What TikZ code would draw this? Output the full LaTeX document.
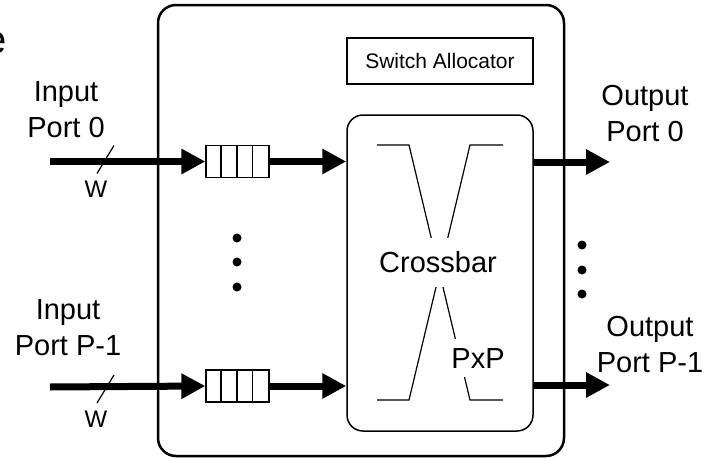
\documentclass[tikz,border=0pt]{standalone}
\usepackage{fontspec}
\setmainfont{Liberation Sans}
\usetikzlibrary{positioning,arrows.meta,calc}

\begin{document}
\begin{tikzpicture}[
    x=1pt, y=-1pt,
    every node/.style={font=\fontsize{29}{36}\selectfont, align=center},
    router/.style={draw, line width=2.5pt, rounded corners=18pt,
                   minimum width=406pt, minimum height=451pt},
    xbarbox/.style={draw, line width=1.5pt, rounded corners=16pt,
                    minimum width=186pt, minimum height=316pt},
    alloc/.style={draw, line width=1.3pt, minimum width=186pt, minimum height=46pt,
                  font=\fontsize{21}{24}\selectfont},
    fifo/.style={draw, line width=1.3pt, minimum width=63pt, minimum height=32pt,
                 inner sep=0pt},
    bus/.style={line width=7pt},
    thinline/.style={line width=1.2pt},
    gapnode/.style={fill=white, inner xsep=2pt, text height=20pt, text depth=0pt},
    wlabel/.style={font=\fontsize{24}{28}\selectfont},
    >={Triangle[length=24pt,width=24pt]}
]
  \useasboundingbox (0,0) rectangle (710,458);

  % cut-off letter at the left edge
  \node[font=\fontsize{40}{44}\selectfont, anchor=base east, inner sep=0pt] (cut) at (6.6,53) {e};

  % router and its parts
  \node[router] (router) at (361,230.5) {};
  \node[alloc] (alloc) at (440,61) {Switch Allocator};
  \node[xbarbox] (xbar) at (440,273) {};

  % crossbar symbol
  \draw[thinline] (377,145) -- (409,145) -- (470,400) -- (503,400);
  \draw[thinline] (503,145) -- (470,145) -- (409,400) -- (377,400);
  \node[gapnode, inner ysep=14.5pt] (xlabel) at (438,262) {Crossbar};
  \node[gapnode, inner ysep=9pt, inner xsep=1pt] (size) at (478,358) {PxP};

  % input buffers
  \node[fifo] (q0) at (237.5,161.5) {};
  \node[fifo] (q1) at (237.5,386) {};
  \foreach \q in {q0,q1}
    \foreach \k in {1,2,3}
      \draw[line width=1.3pt] ([xshift=\k*15.75pt]\q.north west) -- ([xshift=\k*15.75pt]\q.south west);

  % input ports
  \coordinate (in0) at (50,161.5);
  \coordinate (in1) at (50,387);
  \draw[bus,->] (in0) -- (q0.west);
  \draw[bus,->] (in1) -- (q1.west);
  \draw[bus,->] (q0.east) -- (q0 -| xbar.west);
  \draw[bus,->] (q1.east) -- (q1 -| xbar.west);
  \draw[thinline] (in0) ++(47,12) -- ++(17,-28);
  \draw[thinline] (in1) ++(47,16) -- ++(17,-28);
  \node[wlabel] (w0) at (96,189) {W};
  \node[wlabel] (w1) at (96,419) {W};
  \node (inlbl0) at (66,110) {Input\\Port 0};
  \node (inlbl1) at (68,328) {Input\\Port P-1};

  % output ports
  \coordinate (out0) at (610,162);
  \coordinate (out1) at (610,385);
  \draw[bus,->] (xbar.east |- out0) -- (out0);
  \draw[bus,->] (xbar.east |- out1) -- (out1);
  \node (outlbl0) at (645,114) {Output\\Port 0};
  \node (outlbl1) at (650,345) {Output\\Port P-1};

  % ellipses
  \foreach \y in {238,262,287}
    \fill (237,\y) circle (4.5pt);
  \foreach \y in {245,270,294}
    \fill (582,\y) circle (4.5pt);
\end{tikzpicture}
\end{document}
